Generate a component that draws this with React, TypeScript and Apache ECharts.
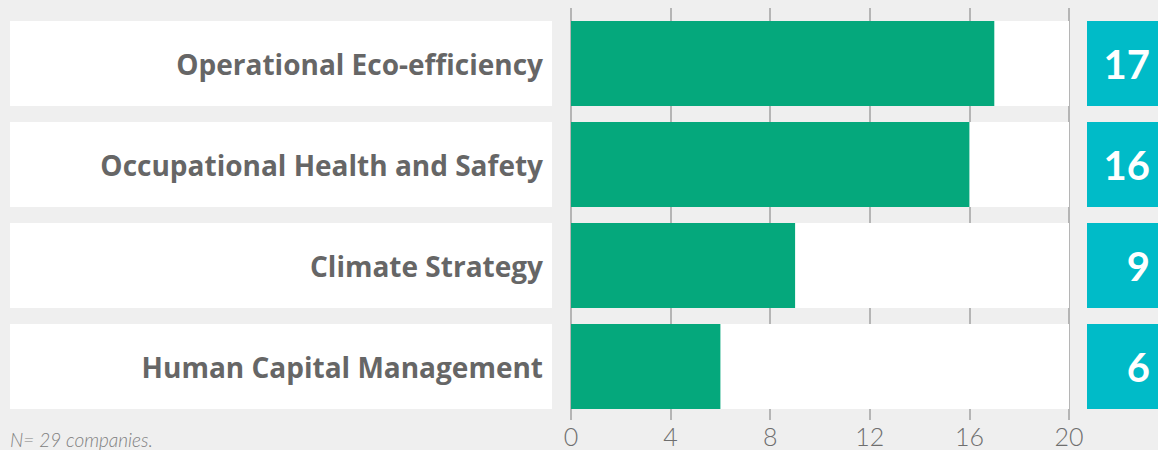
import React, { useEffect, useRef } from "react";
import * as echarts from "echarts";

const categories = [
  "Operational Eco-efficiency",
  "Occupational Health and Safety",
  "Climate Strategy",
  "Human Capital Management",
];
const values = [17, 16, 9, 6];
const axisMax = 20;
const axisInterval = 4;
const footnote = "N= 29 companies.";

const GREEN = "#05a87c";
const TEAL = "#00bbc8";
const BG = "#efefef";
const LABEL = "#666666";

export default function App() {
  const ref = useRef<HTMLDivElement>(null);
  useEffect(() => {
    if (!ref.current) return;
    const chart = echarts.init(ref.current, null, { renderer: "svg" });
    const ones = categories.map(() => 1);
    const full = categories.map(() => axisMax);
    const bandTop = 13;
    const bandH = 404;
    chart.setOption({
      animation: false,
      backgroundColor: BG,
      title: {
        text: footnote,
        left: 5,
        top: 425,
        textStyle: {
          fontFamily: "Lato",
          fontStyle: "italic",
          fontWeight: 300,
          fontSize: 19,
          color: "#808080",
        },
      },
      grid: [
        { left: 571, width: 498, top: 8, height: 412, containLabel: false },
        { left: 571, width: 498, top: bandTop, height: bandH },
        { left: 10, width: 542, top: bandTop, height: bandH },
        { left: 1087, width: 71, top: bandTop, height: bandH },
      ],
      xAxis: [
        {
          gridIndex: 0,
          type: "value",
          min: 0,
          max: axisMax,
          interval: axisInterval,
          axisLine: { show: false },
          axisTick: { show: false },
          splitLine: { show: true, lineStyle: { color: "#b5b5b5", width: 2 } },
          axisLabel: {
            margin: 4,
            fontFamily: "Lato",
            fontWeight: 300,
            fontSize: 25,
            lineHeight: 24,
            color: "#6e6e6e",
          },
        },
        { gridIndex: 1, type: "value", min: 0, max: axisMax, show: false, splitLine: { show: false } },
        { gridIndex: 2, type: "value", min: 0, max: 1, show: false, splitLine: { show: false } },
        { gridIndex: 3, type: "value", min: 0, max: 1, show: false, splitLine: { show: false } },
      ],
      yAxis: [
        { gridIndex: 0, type: "value", show: false, splitLine: { show: false } },
        { gridIndex: 1, type: "category", data: categories, inverse: true, show: false },
        { gridIndex: 2, type: "category", data: categories, inverse: true, show: false },
        { gridIndex: 3, type: "category", data: categories, inverse: true, show: false },
      ],
      series: [
        {
          type: "bar",
          xAxisIndex: 1,
          yAxisIndex: 1,
          data: full,
          barWidth: 85,
          barGap: "-100%",
          itemStyle: { color: "#ffffff" },
          silent: true,
          z: 2,
        },
        {
          type: "bar",
          xAxisIndex: 1,
          yAxisIndex: 1,
          data: values,
          barWidth: 85,
          barGap: "-100%",
          itemStyle: { color: GREEN },
          z: 3,
        },
        {
          type: "bar",
          xAxisIndex: 2,
          yAxisIndex: 2,
          data: ones,
          barWidth: 85,
          itemStyle: { color: "#ffffff" },
          label: {
            show: true,
            position: "insideRight",
            distance: 9,
            formatter: (p: any) => categories[p.dataIndex],
            fontFamily: "Open Sans",
            fontWeight: "bold",
            fontSize: 28,
            color: LABEL,
          },
        },
        {
          type: "bar",
          xAxisIndex: 3,
          yAxisIndex: 3,
          data: ones,
          barWidth: 85,
          itemStyle: { color: TEAL },
          label: {
            show: true,
            position: "insideRight",
            distance: 8,
            formatter: (p: any) => String(values[p.dataIndex]),
            fontFamily: "Lato",
            fontWeight: "bold",
            fontSize: 40,
            color: "#ffffff",
          },
        },
      ],
    });
    return () => chart.dispose();
  }, []);
  return (
    <div
      ref={ref}
      style={{ position: "absolute", left: 0, top: 0, width: 1158, height: 450 }}
    />
  );
}
